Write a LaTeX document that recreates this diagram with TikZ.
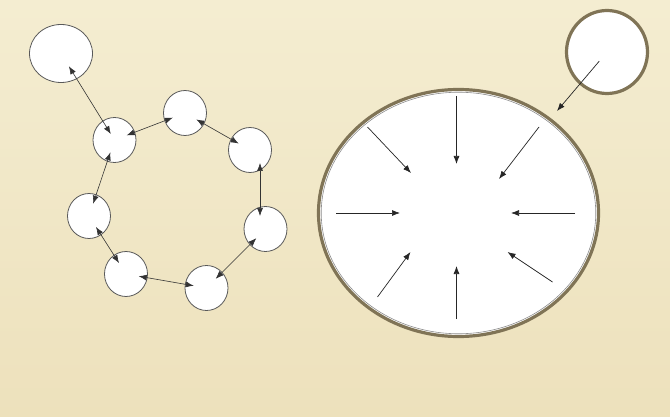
\documentclass[tikz,border=0pt]{standalone}
\usepackage{tikz}
\usetikzlibrary{arrows.meta, positioning, shapes.geometric}
\definecolor{parchtop}{RGB}{244,237,209}
\definecolor{parchbot}{RGB}{237,225,188}
\definecolor{wallbrown}{RGB}{128,116,86}
\begin{document}
\begin{tikzpicture}[
  x=1pt, y=-1pt,
  bead/.style={ellipse, draw=black!65, line width=0.8pt, fill=white, inner sep=0pt, minimum width=43pt, minimum height=45pt},
  wall/.style={ellipse, draw=wallbrown, line width=3.2pt, fill=white, inner sep=0pt},
  link/.style={{Latex[length=8pt,width=6pt]}-{Latex[length=8pt,width=6pt]}, line width=0.6pt, draw=black!80, shorten >=13pt, shorten <=13pt},
  push/.style={-{Latex[length=8pt,width=6pt]}, line width=0.7pt, draw=black!85}
]
\useasboundingbox (0,0) rectangle (670,417);
\shade[top color=parchtop, bottom color=parchbot] (0,0) rectangle (670,417);

\node[bead, minimum width=63pt, minimum height=58pt] (loner) at (61,53.5) {};
\node[bead] (hub) at (114.5,140) {};
\node[bead] (top) at (185,113) {};
\node[bead] (upright) at (250,150) {};
\node[bead] (right) at (265.5,229) {};
\node[bead] (lowright) at (206.5,288) {};
\node[bead] (bottom) at (126,274) {};
\node[bead] (left) at (89,216) {};

\draw[link, shorten <=15pt, shorten >=7pt] (loner.center) -- (hub.center);
\draw[link] ([xshift=10pt]upright.center) -- ([xshift=-5.5pt]right.center);
\foreach \a/\b in {hub/top, top/upright, right/lowright, lowright/bottom, bottom/left, left/hub}
  \draw[link] (\a.center) -- (\b.center);

\node[wall, minimum width=280pt, minimum height=247pt] (cell) at (458.5,213) {};
\node[ellipse, draw=black!45, line width=0.6pt, inner sep=0pt, minimum width=274.5pt, minimum height=241.5pt] (membrane) at (cell.center) {};
\node[wall, minimum width=81pt, minimum height=83pt] (bud) at (607,52) {};
\coordinate (dock) at (557,111);

\draw[push, shorten <=12pt] (bud.center) -- (dock);
\foreach \ax/\ay/\bx/\by in {-2/-117/-2/-49, -91/-86/-47.5/-40, 80.5/-86/40.5/-34, -122.5/0/-58.5/0,
    116.5/0/52.5/0, -81/84/-48/39, -2/106/-2/53, 94/69/49/39}
  \draw[push] ([shift={(\ax,\ay)}]cell.center) -- ([shift={(\bx,\by)}]cell.center);
\end{tikzpicture}
\end{document}
